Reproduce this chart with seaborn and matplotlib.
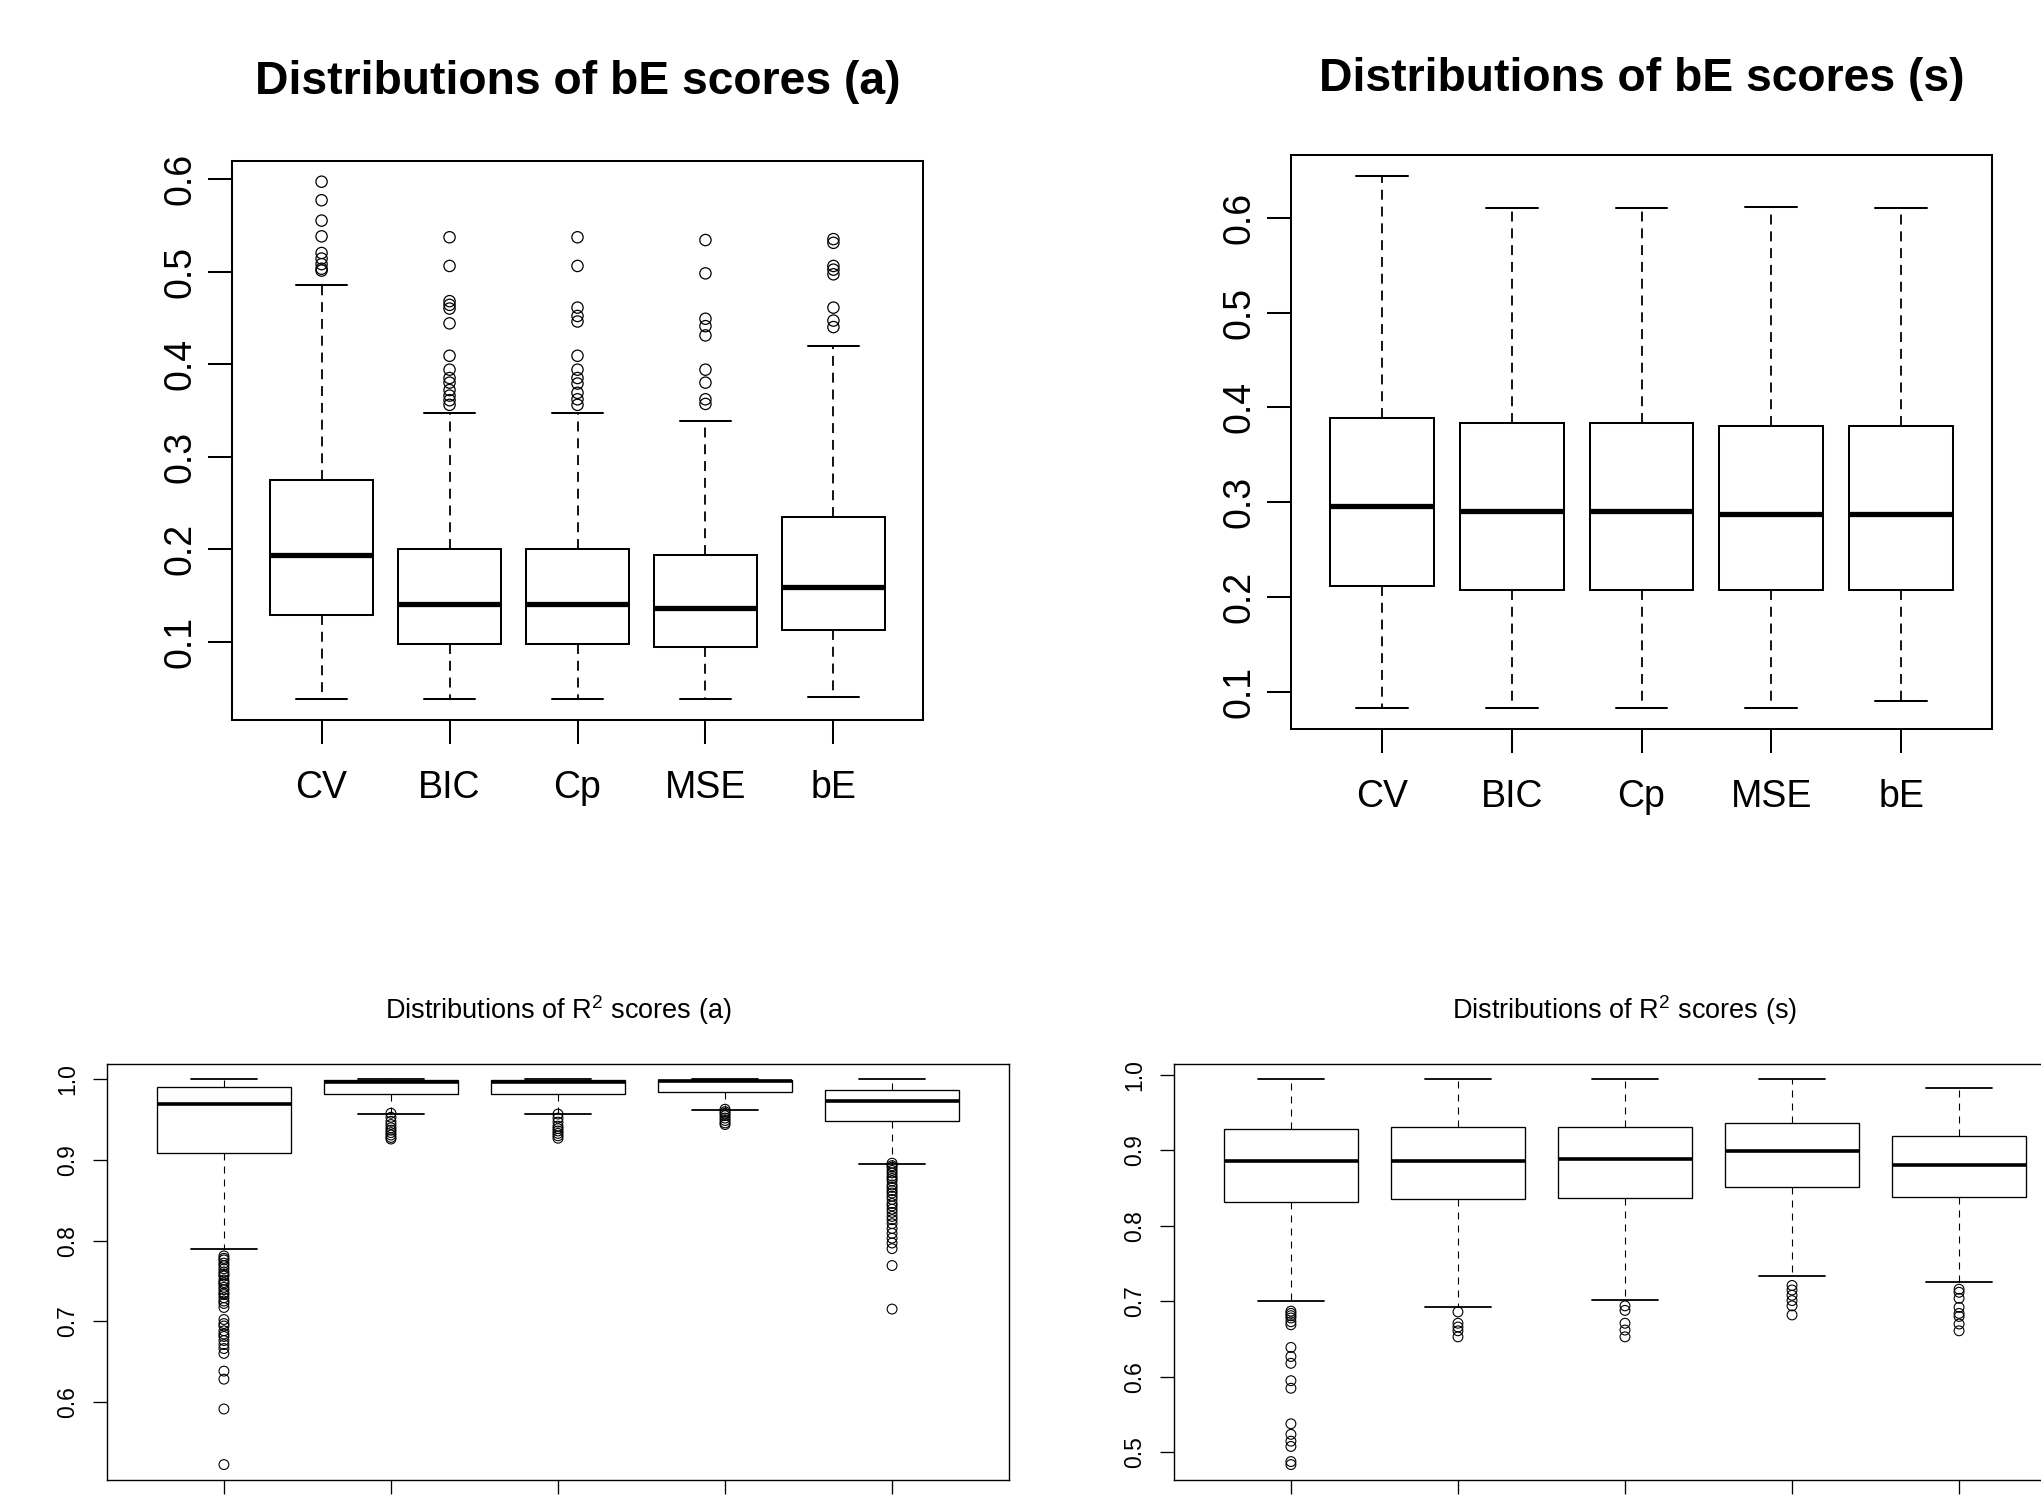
import numpy as np
import pandas as pd
import matplotlib
matplotlib.use("Agg")
import matplotlib.pyplot as plt
from matplotlib import font_manager
import seaborn as sns

methods = ["CV", "BIC", "Cp", "MSE", "bE"]

# bE scores, setting (a): whisker ends, quartiles, medians and outlying runs
be_a_low = [0.038, 0.038, 0.038, 0.038, 0.041]
be_a_q1 = [0.129, 0.098, 0.098, 0.095, 0.113]
be_a_median = [0.194, 0.141, 0.141, 0.137, 0.159]
be_a_q3 = [0.275, 0.200, 0.200, 0.194, 0.235]
be_a_high = [0.485, 0.347, 0.347, 0.339, 0.420]
be_a_outliers = [
    [0.597, 0.577, 0.555, 0.538, 0.520, 0.514, 0.508, 0.503, 0.501],
    [0.537, 0.506, 0.468, 0.464, 0.460, 0.444, 0.409, 0.394, 0.385,
     0.380, 0.372, 0.366, 0.361, 0.356],
    [0.537, 0.506, 0.461, 0.452, 0.446, 0.409, 0.394, 0.385, 0.379,
     0.369, 0.362, 0.356],
    [0.534, 0.498, 0.449, 0.441, 0.431, 0.394, 0.380, 0.362, 0.357],
    [0.535, 0.531, 0.506, 0.502, 0.497, 0.461, 0.447, 0.440],
]

# bE scores, setting (s)
be_s_low = [0.083, 0.083, 0.083, 0.083, 0.090]
be_s_q1 = [0.212, 0.207, 0.207, 0.207, 0.207]
be_s_median = [0.296, 0.291, 0.291, 0.288, 0.288]
be_s_q3 = [0.389, 0.384, 0.384, 0.380, 0.380]
be_s_high = [0.644, 0.610, 0.610, 0.612, 0.610]
be_s_outliers = [[], [], [], [], []]

# R^2 scores, setting (a)
r2_a_low = [0.790, 0.957, 0.957, 0.9615, 0.8955]
r2_a_q1 = [0.909, 0.982, 0.982, 0.984, 0.949]
r2_a_median = [0.969, 0.9965, 0.9965, 0.9975, 0.9735]
r2_a_q3 = [0.990, 0.999, 0.999, 0.9995, 0.9865]
r2_a_high = [1.000, 1.000, 1.000, 1.000, 1.000]
r2_a_outliers = [
    [0.781, 0.778, 0.776, 0.772, 0.769, 0.765, 0.761, 0.758, 0.756, 0.751,
     0.748, 0.746, 0.742, 0.739, 0.735, 0.733, 0.729, 0.725, 0.722, 0.717,
     0.702, 0.697, 0.694, 0.688, 0.684, 0.681, 0.676, 0.671, 0.666, 0.660,
     0.638, 0.628, 0.591, 0.522],
    [0.958, 0.953, 0.948, 0.944, 0.940, 0.937, 0.934, 0.931, 0.928, 0.926],
    [0.957, 0.952, 0.947, 0.942, 0.939, 0.936, 0.933, 0.930, 0.927],
    [0.963, 0.960, 0.958, 0.955, 0.952, 0.949, 0.946, 0.944],
    [0.896, 0.893, 0.891, 0.887, 0.884, 0.880, 0.877, 0.874, 0.869, 0.866,
     0.862, 0.859, 0.855, 0.851, 0.846, 0.843, 0.839, 0.835, 0.830, 0.826,
     0.821, 0.815, 0.809, 0.803, 0.797, 0.790, 0.769, 0.715],
]

# R^2 scores, setting (s)
r2_s_low = [0.700, 0.692, 0.7016, 0.733, 0.726]
r2_s_q1 = [0.831, 0.835, 0.837, 0.851, 0.838]
r2_s_median = [0.885, 0.886, 0.888, 0.899, 0.880]
r2_s_q3 = [0.928, 0.930, 0.931, 0.936, 0.919]
r2_s_high = [0.9936, 0.9936, 0.9936, 0.9936, 0.9826]
r2_s_outliers = [
    [0.687, 0.684, 0.681, 0.678, 0.673, 0.669, 0.639, 0.627, 0.618, 0.595,
     0.585, 0.538, 0.524, 0.515, 0.508, 0.488, 0.484],
    [0.686, 0.671, 0.666, 0.661, 0.653],
    [0.694, 0.688, 0.671, 0.662, 0.653],
    [0.721, 0.715, 0.708, 0.701, 0.694, 0.682],
    [0.716, 0.712, 0.704, 0.692, 0.684, 0.680, 0.670, 0.661],
]

be_ticks = [0.1, 0.2, 0.3, 0.4, 0.5, 0.6]
r2_a_ticks = [0.6, 0.7, 0.8, 0.9, 1.0]
r2_s_ticks = [0.5, 0.6, 0.7, 0.8, 0.9, 1.0]

sns.set_theme(style="ticks")
installed = {f.name for f in font_manager.fontManager.ttflist}
narrow_ok = "Liberation Sans Narrow" in installed
plt.rcParams["font.family"] = ["Liberation Sans", "DejaVu Sans"]
plt.rcParams["mathtext.fontset"] = "custom"
plt.rcParams["mathtext.rm"] = "Liberation Sans"
plt.rcParams["mathtext.it"] = "Liberation Sans:italic"
plt.rcParams["axes.edgecolor"] = "black"
plt.rcParams["xtick.color"] = "black"
plt.rcParams["ytick.color"] = "black"
plt.rcParams["text.color"] = "black"

top_style = dict(
    box_lw=1.45, median_lw=3.8, whisker_lw=1.3, cap_lw=1.45,
    dash=(5.5, 3.8), marker_s=66, marker_lw=0.9, spine_lw=1.45,
    tick_len=17, tick_w=1.45, xpad=19, ypad=7, show_names=True,
    tick_family=["Liberation Sans Narrow", "Liberation Sans"] if narrow_ok else ["Liberation Sans"],
    tick_size=32 if narrow_ok else 27,
)
bottom_style = dict(
    box_lw=0.95, median_lw=2.6, whisker_lw=0.8, cap_lw=1.3,
    dash=(6.3, 5.4), marker_s=50, marker_lw=0.8, spine_lw=1.0,
    tick_len=10, tick_w=0.95, xpad=8, ypad=10, show_names=False,
    tick_family=["Liberation Sans"], tick_size=16.5,
)

W, H = 2041, 1503
fig = plt.figure(figsize=(W / 100, H / 100), dpi=100)
fig.patch.set_facecolor("white")


def box_axes(left, top, right, bottom):
    return fig.add_axes([left / W, 1 - bottom / H, (right - left) / W, (bottom - top) / H])


def draw_panel(ax, low, q1, median, q3, high, outliers, yticks, st):
    # each box comes from its five-number summary; whis=(0, 100) ends the
    # whiskers exactly at the listed extremes
    summary = pd.DataFrame({
        "method": np.repeat(methods, 5),
        "score": np.column_stack([low, q1, median, q3, high]).ravel(),
    })
    sns.boxplot(
        data=summary, x="method", y="score", order=methods, whis=(0, 100),
        width=0.8, color="white", saturation=1, linecolor="black",
        linewidth=st["box_lw"], showfliers=False,
        medianprops={"linewidth": st["median_lw"], "solid_capstyle": "butt"},
        whiskerprops={"linewidth": st["whisker_lw"], "linestyle": (0, st["dash"])},
        capprops={"linewidth": st["cap_lw"]},
        ax=ax,
    )
    points = pd.DataFrame({
        "method": [m for m, vals in zip(methods, outliers) for _ in vals],
        "score": [v for vals in outliers for v in vals],
    })
    if len(points):
        sns.scatterplot(
            data=points, x="method", y="score", marker="o", s=st["marker_s"],
            facecolors="none", edgecolor="black", linewidth=st["marker_lw"],
            zorder=4, legend=False, ax=ax,
        )
    values = np.concatenate([np.asarray(low), np.asarray(high)]
                            + [np.asarray(v) for v in outliers if len(v)])
    lo, hi = values.min(), values.max()
    pad = 0.04 * (hi - lo)
    ax.set_ylim(lo - pad, hi + pad)
    ax.set_xlim(-0.7, len(methods) - 0.3)
    ax.set_xlabel("")
    ax.set_ylabel("")
    ax.set_facecolor("white")
    ax.grid(False)
    ax.set_xticks(range(len(methods)))
    if st["show_names"]:
        ax.set_xticklabels(methods, family=st["tick_family"], fontsize=st["tick_size"])
    else:
        ax.set_xticklabels([])
    ax.set_yticks(yticks)
    ax.set_yticklabels([f"{t:.1f}" for t in yticks], family=st["tick_family"],
                       fontsize=st["tick_size"], rotation=90, va="center")
    ax.tick_params(axis="both", direction="out", length=st["tick_len"],
                   width=st["tick_w"], color="black")
    ax.tick_params(axis="x", pad=st["xpad"])
    ax.tick_params(axis="y", pad=st["ypad"])
    for spine in ax.spines.values():
        spine.set_visible(True)
        spine.set_color("black")
        spine.set_linewidth(st["spine_lw"])


def title_at(left, right, baseline, text, **kw):
    fig.text((left + right) / 2 / W, 1 - baseline / H, text,
             ha="center", va="baseline", **kw)


ax_tl = box_axes(232, 161, 923, 720)
draw_panel(ax_tl, be_a_low, be_a_q1, be_a_median, be_a_q3, be_a_high,
           be_a_outliers, be_ticks, top_style)
title_at(232, 923, 94, "Distributions of bE scores (a)",
         fontsize=33.3, fontweight="bold")

ax_tr = box_axes(1291, 155, 1992, 729)
draw_panel(ax_tr, be_s_low, be_s_q1, be_s_median, be_s_q3, be_s_high,
           be_s_outliers, be_ticks, top_style)
title_at(1291, 1992, 91, "Distributions of bE scores (s)",
         fontsize=33.3, fontweight="bold")

ax_bl = box_axes(107, 1064, 1009, 1480)
draw_panel(ax_bl, r2_a_low, r2_a_q1, r2_a_median, r2_a_q3, r2_a_high,
           r2_a_outliers, r2_a_ticks, bottom_style)
title_at(107, 1009, 1019, r"Distributions of R$^{\mathrm{2}}$ scores (a)", fontsize=19.5)

ax_br = box_axes(1174, 1064, 2076, 1480)
draw_panel(ax_br, r2_s_low, r2_s_q1, r2_s_median, r2_s_q3, r2_s_high,
           r2_s_outliers, r2_s_ticks, bottom_style)
title_at(1174, 2076, 1019, r"Distributions of R$^{\mathrm{2}}$ scores (s)", fontsize=19.5)

fig.savefig("out.png", dpi=100, facecolor="white")
